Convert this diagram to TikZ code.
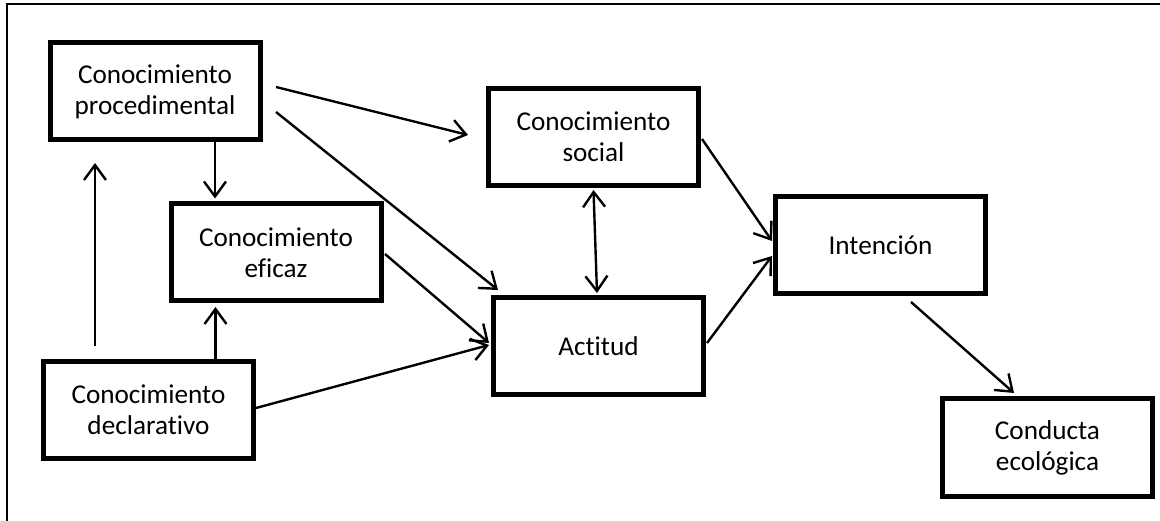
\documentclass[tikz,border=0pt]{standalone}
\usepackage{fontspec}
\setmainfont{Carlito}[Ligatures=NoCommon]
\usetikzlibrary{arrows.meta}
\tikzset{
  box/.style={draw=black, line width=5pt, outer sep=2.5pt, fill=white,
    minimum width=210pt, minimum height=97pt, inner sep=0pt, align=center,
    font=\fontsize{27.2}{31}\selectfont},
  conn/.style={draw=black, line width=2.4pt,
    -{Straight Barb[length=15pt,width=22pt,line width=2.4pt]}},
  conn2/.style={draw=black, line width=2.4pt,
    {Straight Barb[length=15pt,width=22pt,line width=2.4pt]}-{Straight Barb[length=15pt,width=22pt,line width=2.4pt]}},
  frame/.style={draw=black, line width=2.5pt}
}
\begin{document}
\begin{tikzpicture}[x=1pt,y=-1pt]
\useasboundingbox (0,0) rectangle (1160,521);
\coordinate (fa) at (7,521);
\coordinate (fb) at (7,4);
\coordinate (fc) at (1160,4);
\draw[frame] (fa) -- (fb) -- (fc);

\node[box] (proc) at (155,91.5) {Conocimiento\\procedimental};
\node[box] (efic) at (276,252.5) {Conocimiento\\eficaz};
\node[box] (decl) at (148.5,410) {Conocimiento\\declarativo};
\node[box] (soc) at (593.5,137) {Conocimiento\\social};
\node[box] (act) at (598.5,346) {Actitud};
\node[box] (inte) at (880.5,245) {Intención};
\node[box] (cond) at (1047.5,447.5) {Conducta\\ecológica};

\draw[conn] ([shift={(13.5,-4.5)}]proc.east) -- ([shift={(-18,-2)}]soc.west);
\draw[conn] ([shift={(13.5,20.5)}]proc.east) -- ([shift={(7,-5)}]act.north west);
\draw[conn] ([shift={(60,0)}]proc.south) -- ([shift={(-61,-3)}]efic.north);
\draw[conn] ([shift={(-53.5,-13)}]decl.north) -- ([shift={(-60,20.5)}]proc.south);
\draw[conn] ([shift={(67,0)}]decl.north) -- ([shift={(-60.5,3.5)}]efic.south);
\draw[conn] ([shift={(1.5,1.5)}]efic.east) -- ([shift={(-2,-3)}]act.west);
\draw[conn] ([shift={(0,-2)}]decl.east) -- ([shift={(-2,-1)}]act.west);
\draw[conn2] ([shift={(0,2)}]soc.south) -- ([shift={(-1.5,-2)}]act.north);
\draw[conn] ([shift={(1,2)}]soc.east) -- ([shift={(-1,-4)}]inte.west);
\draw[conn] ([shift={(1,-3)}]act.east) -- ([shift={(-1,11)}]inte.west);
\draw[conn] ([shift={(30.5,6)}]inte.south) -- ([shift={(-33.5,-3.5)}]cond.north);
\end{tikzpicture}
\end{document}
